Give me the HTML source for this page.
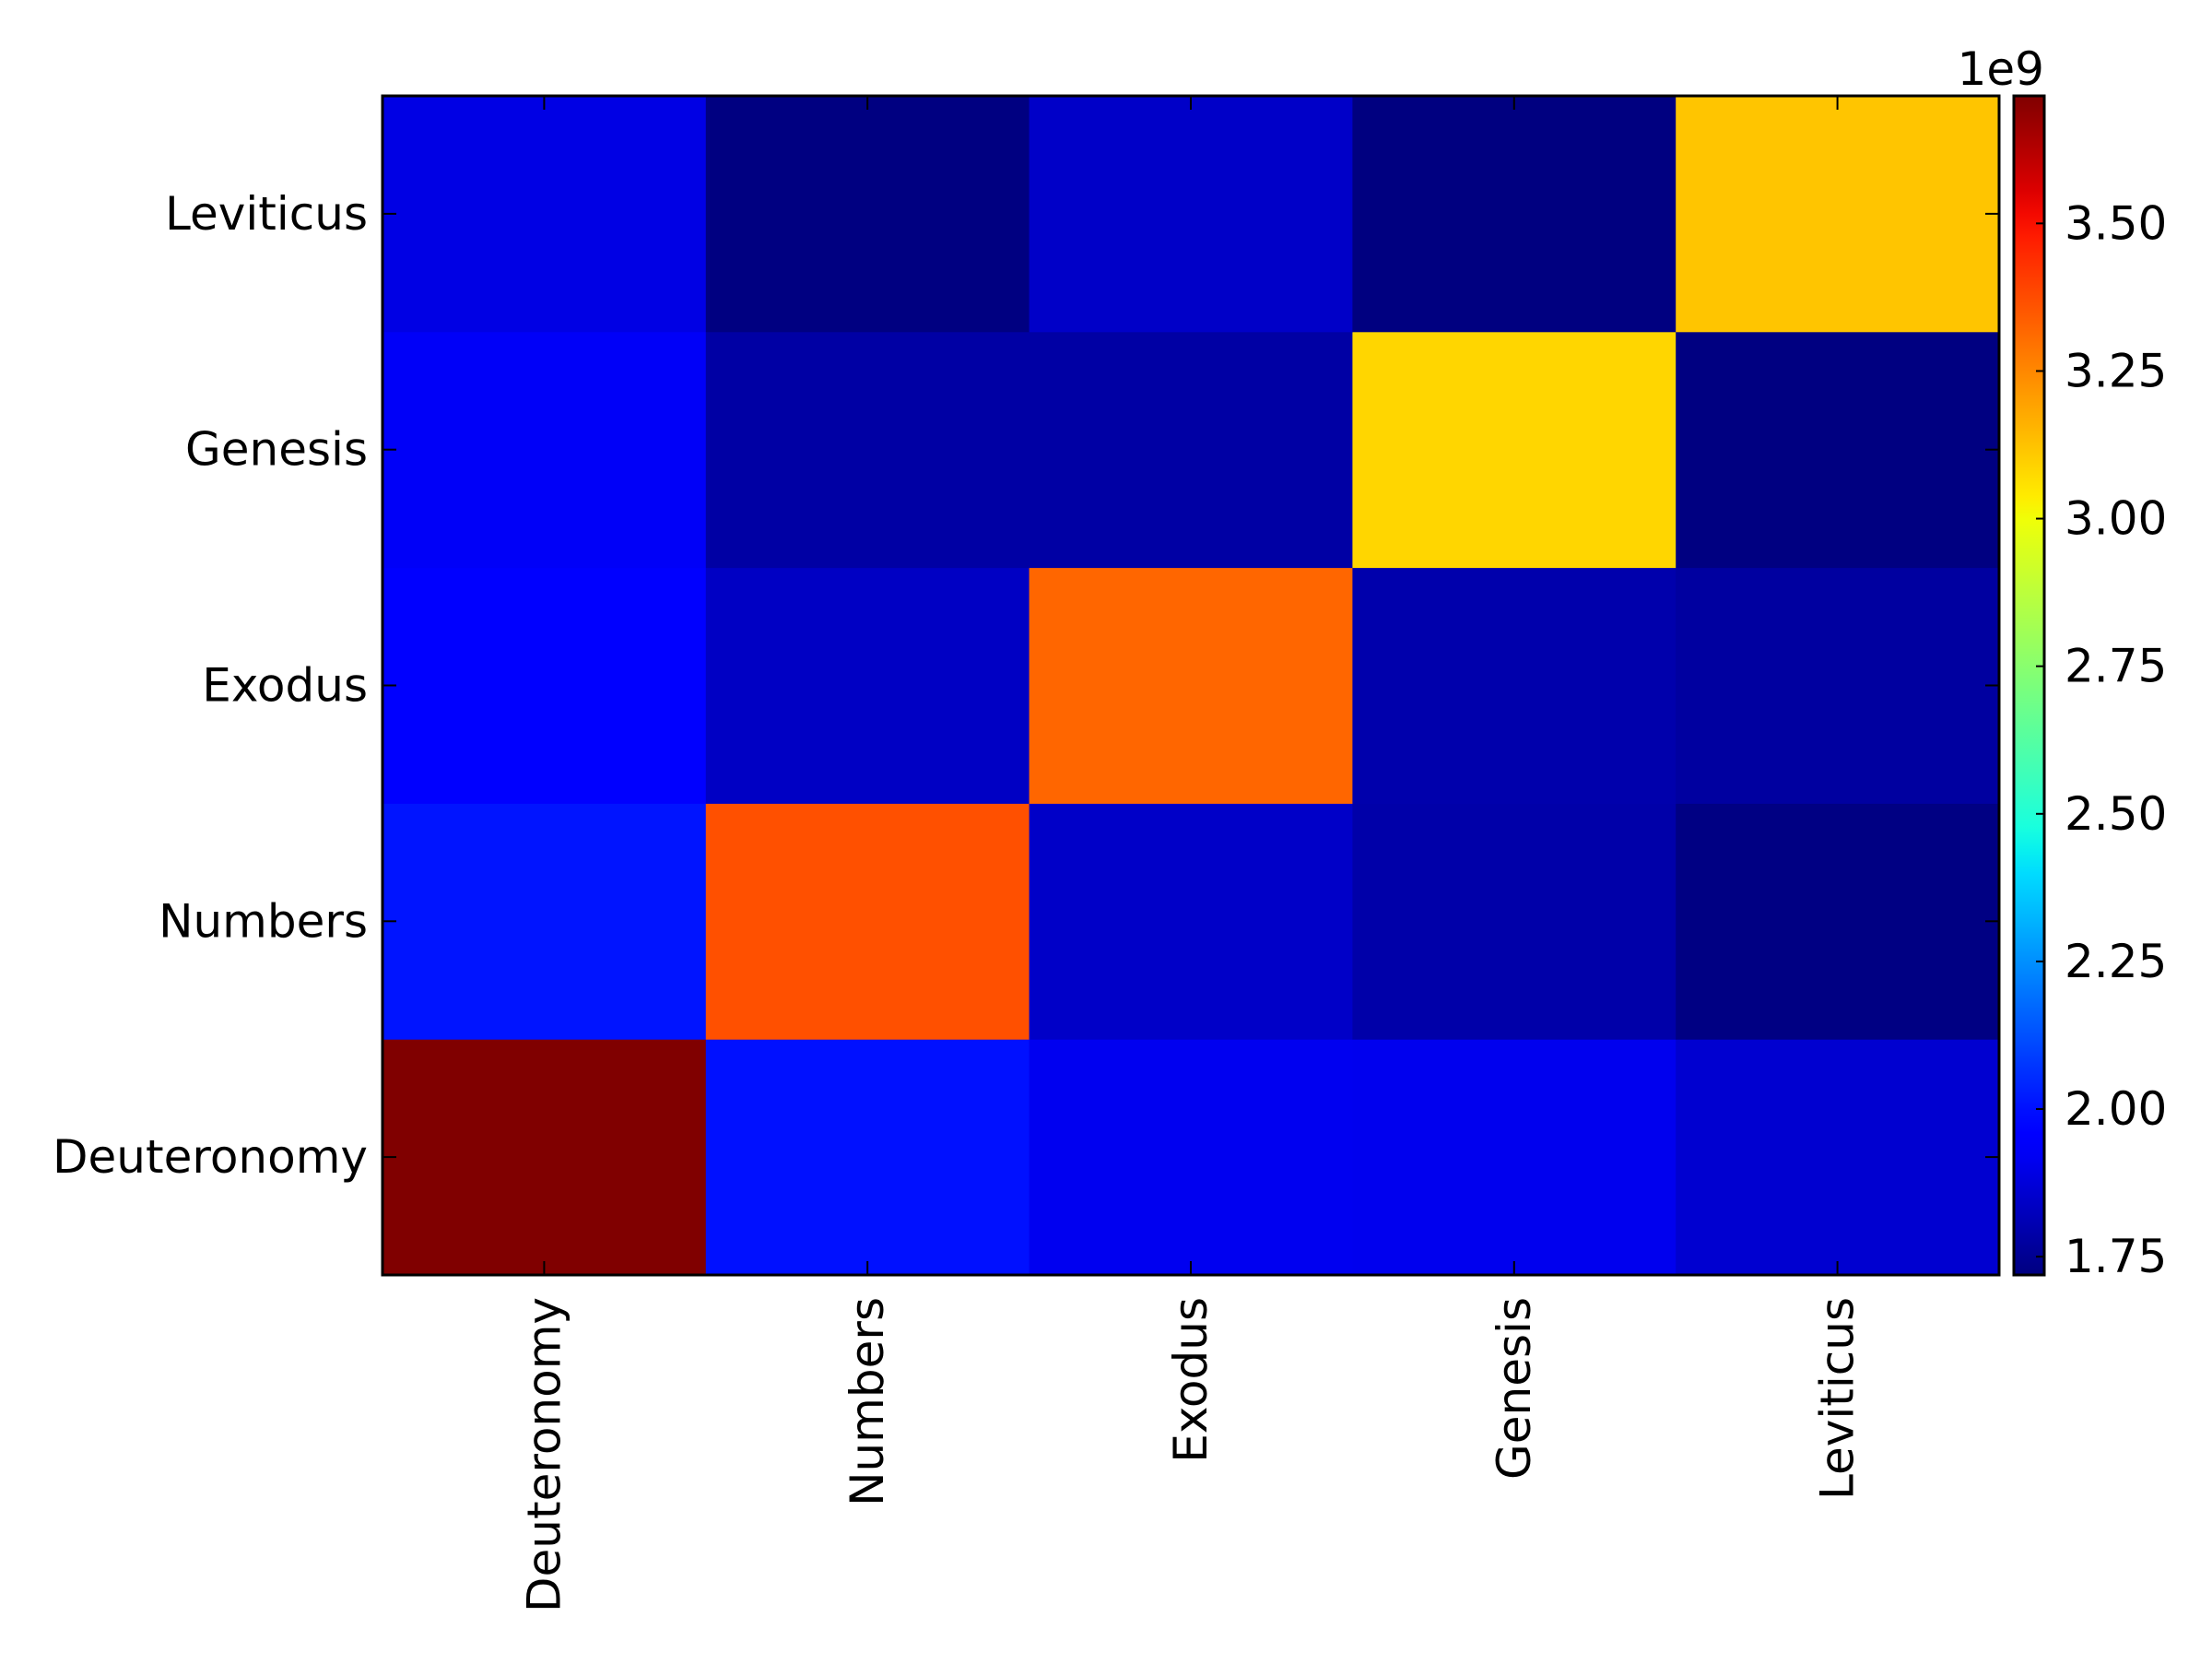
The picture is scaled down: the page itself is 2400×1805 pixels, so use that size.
<!DOCTYPE html>
<html><head><meta charset="utf-8"><style>
html,body{margin:0;padding:0;background:#fff;}
svg text{font-family:"DejaVu Sans","Liberation Sans",sans-serif;fill:#000;}
</style></head><body>
<svg id="chart" width="2400" height="1800" xmlns="http://www.w3.org/2000/svg">
<g id="cells"></g>
<g id="axes"></g>
<g id="cbar"></g>
</svg>
<script>
const xCategories = ["Deuteronomy","Numbers","Exodus","Genesis","Leviticus"];
const yCategories = ["Deuteronomy","Numbers","Exodus","Genesis","Leviticus"];
// values in units of 1e9; rows follow yCategories (bottom to top)
const rowDeuteronomy = [3.716, 2.000, 1.912, 1.910, 1.858];
const rowNumbers     = [2.008, 3.367, 1.844, 1.790, 1.725];
const rowExodus      = [1.940, 1.837, 3.320, 1.796, 1.775];
const rowGenesis     = [1.927, 1.782, 1.782, 3.083, 1.722];
const rowLeviticus   = [1.892, 1.722, 1.844, 1.719, 3.120];
const cbarTicks = [1.75, 2.00, 2.25, 2.50, 2.75, 3.00, 3.25, 3.50];
const cbarTickLabels = ["1.75","2.00","2.25","2.50","2.75","3.00","3.25","3.50"];
const vmin = 1.719, vmax = 3.716;

const rows = [rowDeuteronomy,rowNumbers,rowExodus,rowGenesis,rowLeviticus];
const L=415,R=2169,T=104,B=1383;
const CBL=2185,CBR=2218;
const NS="http://www.w3.org/2000/svg";
function mk(tag,attrs,parent){const e=document.createElementNS(NS,tag);for(const k in attrs)e.setAttribute(k,attrs[k]);parent.appendChild(e);return e;}
function xScale(i){return L+(R-L)*i/xCategories.length;}
function yScale(j){return B-(B-T)*j/yCategories.length;}
function cScale(v){return B-(B-T)*(v-vmin)/(vmax-vmin);}
function interp(pts,t){for(let i=1;i<pts.length;i++){if(t<=pts[i][0]){const a=pts[i-1],b=pts[i];return a[1]+(b[1]-a[1])*(t-a[0])/(b[0]-a[0]);}}return pts[pts.length-1][1];}
function jet(t){t=Math.max(0,Math.min(1,t));
 const r=interp([[0,0],[0.35,0],[0.66,1],[0.89,1],[1,0.5]],t);
 const g=interp([[0,0],[0.125,0],[0.375,1],[0.64,1],[0.91,0],[1,0]],t);
 const b=interp([[0,0.5],[0.11,1],[0.34,1],[0.65,0],[1,0]],t);
 return `rgb(${Math.round(r*255)},${Math.round(g*255)},${Math.round(b*255)})`;}
const cells=document.getElementById('cells');
rows.forEach((row,j)=>row.forEach((v,i)=>{
 const x0=xScale(i),x1=xScale(i+1),y0=yScale(j+1),y1=yScale(j);
 const r=mk('rect',{x:x0,y:y0,width:x1-x0+0.5,height:y1-y0+0.5,fill:jet((v-vmin)/(vmax-vmin))},cells);
 
 
}));
const ax=document.getElementById('axes');
xCategories.forEach((c,i)=>{
 const cx=(xScale(i)+xScale(i+1))/2;
 mk('line',{x1:cx,x2:cx,y1:B,y2:B-15,stroke:'#000','stroke-width':2},ax);
 mk('line',{x1:cx,x2:cx,y1:T,y2:T+15,stroke:'#000','stroke-width':2},ax);
 const t=mk('text',{x:0,y:0,'font-size':50,'text-anchor':'end','dominant-baseline':'central',transform:`translate(${cx},${B+24}) rotate(-90)`},ax);
 t.textContent=c;
 
 
});
yCategories.forEach((c,j)=>{
 const cy=(yScale(j)+yScale(j+1))/2;
 mk('line',{x1:L,x2:L+15,y1:cy,y2:cy,stroke:'#000','stroke-width':2},ax);
 mk('line',{x1:R,x2:R-15,y1:cy,y2:cy,stroke:'#000','stroke-width':2},ax);
 const t=mk('text',{x:L-16,y:cy,'font-size':50,'text-anchor':'end','dominant-baseline':'central'},ax);
 t.textContent=c;
 
 
});
const frame=mk('rect',{x:L,y:T,width:R-L,height:B-T,fill:'none',stroke:'#000','stroke-width':3},ax);


const cb=document.getElementById('cbar');
const defs=mk('defs',{},cb);
const grad=mk('linearGradient',{id:'jetg',x1:0,y1:1,x2:0,y2:0},defs);
for(let k=0;k<=50;k++){mk('stop',{offset:k/50,'stop-color':jet(k/50)},grad);}
const cbr=mk('rect',{x:CBL,y:T,width:CBR-CBL,height:B-T,fill:'url(#jetg)',stroke:'#000','stroke-width':3},cb);


cbarTicks.forEach((v,k)=>{
 const y=cScale(v);
 mk('line',{x1:CBR,x2:CBR-9,y1:y,y2:y,stroke:'#000','stroke-width':2},cb);
 const t=mk('text',{x:CBR+22,y:y,'font-size':50,'dominant-baseline':'central'},cb);
 t.textContent=cbarTickLabels[k];
 
 
});
const off=mk('text',{x:CBR,y:92,'font-size':50,'text-anchor':'end'},cb);
off.textContent='1e9';


</script>
</body></html>
